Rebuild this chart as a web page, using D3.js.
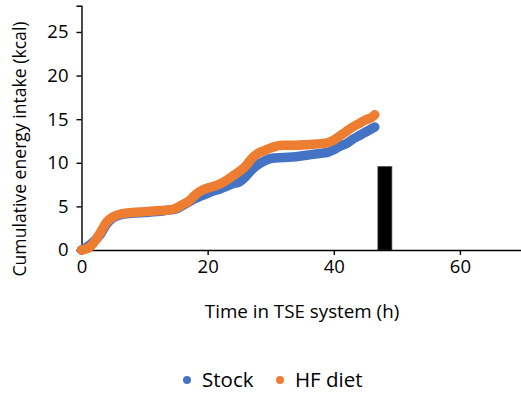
<!DOCTYPE html>
<html>
<head>
<meta charset="utf-8">
<script src="https://cdn.jsdelivr.net/npm/d3@7"></script>
<style>
  body { margin: 0; background: #fff; }
  svg text { font-family: "Open Sans", "Noto Sans", sans-serif; fill: #000; }
</style>
</head>
<body>
<svg id="chart" width="521" height="396"></svg>
<script>
// cumulative intake
const hours = [0, 1, 2, 3, 4, 5, 6, 8, 10, 12, 14, 15, 16, 17, 18, 19, 20, 21, 22, 23, 24, 25, 26, 27, 28, 29, 30, 32, 34, 36, 38, 39, 40, 41, 42, 43, 44, 45, 46, 46.5];
const stock = [0, 0.4, 1.0, 1.8, 3.0, 3.7, 4.0, 4.2, 4.3, 4.4, 4.6, 4.7, 5.1, 5.5, 5.9, 6.2, 6.5, 6.8, 7.0, 7.3, 7.6, 7.8, 8.4, 9.2, 9.8, 10.2, 10.5, 10.6, 10.7, 10.9, 11.1, 11.2, 11.5, 11.9, 12.2, 12.7, 13.1, 13.5, 13.9, 14.1];
const hfDiet = [0, 0.2, 0.9, 2.0, 3.2, 3.8, 4.1, 4.3, 4.4, 4.5, 4.6, 4.8, 5.2, 5.6, 6.3, 6.8, 7.1, 7.3, 7.6, 8.0, 8.5, 9.0, 9.6, 10.5, 11.1, 11.4, 11.7, 12.0, 12.0, 12.1, 12.2, 12.3, 12.6, 13.1, 13.6, 14.1, 14.5, 14.9, 15.2, 15.5];

// the single black column
const barHours = [48.1];
const barValues = [9.55];
const barWidthHours = 2.2;

const xTicks = [0, 20, 40, 60];
const yTicks = [0, 5, 10, 15, 20, 25];

const seriesNames = ["Stock", "HF diet"];
const seriesColors = ["#4472C4", "#ED7D31"];

const svg = d3.select("#chart");

// 坐标比例尺
const x = d3.scaleLinear().domain([0, 70]).range([81.5, 523]);
const y = d3.scaleLinear().domain([0, 28]).range([250, 5.8]);

// bar
svg.append("g").selectAll("rect")
    .data(barHours.map((h, i) => ({ h, v: barValues[i] })))
    .enter().append("rect")
    .attr("x", d => x(d.h - barWidthHours / 2))
    .attr("y", d => y(d.v))
    .attr("width", x(barWidthHours) - x(0))
    .attr("height", d => y(0) - y(d.v))
    .attr("fill", "#000")
    .attr("stroke", "#333")
    .attr("stroke-width", 0.8);

// axes
const xAxis = d3.axisBottom(x).tickValues(xTicks).tickSize(5).tickPadding(5);
const yAxis = d3.axisLeft(y).tickValues(yTicks).tickSize(5).tickPadding(8);

const gx = svg.append("g").attr("transform", `translate(0,${y(0)})`).call(xAxis);
const gy = svg.append("g").attr("transform", `translate(${x(0)},0)`).call(yAxis);

[gx, gy].forEach(g => {
    g.select(".domain").attr("stroke", "#000").attr("stroke-width", 1.4);
    g.selectAll(".tick line").attr("stroke", "#000").attr("stroke-width", 1.4);
    g.selectAll(".tick text").attr("font-size", 18.5).attr("font-family", null).attr("fill", "#000");
});

// lines
const line = d3.line()
    .x((d, i) => x(hours[i]))
    .y(d => y(d))
    .curve(d3.curveMonotoneX);

[stock, hfDiet].forEach((vals, k) => {
    svg.append("path")
        .datum(vals)
        .attr("d", line)
        .attr("fill", "none")
        .attr("stroke", seriesColors[k])
        .attr("stroke-width", 9.5)
        .attr("stroke-linecap", "round")
        .attr("stroke-linejoin", "round");
});

// axis titles
svg.append("text")
    .attr("x", 302)
    .attr("y", 318)
    .attr("text-anchor", "middle")
    .attr("font-size", 18.8)
    .text("Time in TSE system (h)");

svg.append("text")
    .attr("transform", "translate(26,149) rotate(-90)")
    .attr("text-anchor", "middle")
    .attr("font-size", 17.6)
    .text("Cumulative energy intake (kcal)");

// legend
const legendX = [187, 280];
const legend = svg.append("g");
seriesNames.forEach((name, i) => {
    legend.append("circle")
        .attr("cx", legendX[i])
        .attr("cy", 380)
        .attr("r", 4)
        .attr("fill", seriesColors[i]);
    legend.append("text")
        .attr("x", legendX[i] + 15)
        .attr("y", 387)
        .attr("font-size", 20.5)
        .text(name);
});
</script>
</body>
</html>
